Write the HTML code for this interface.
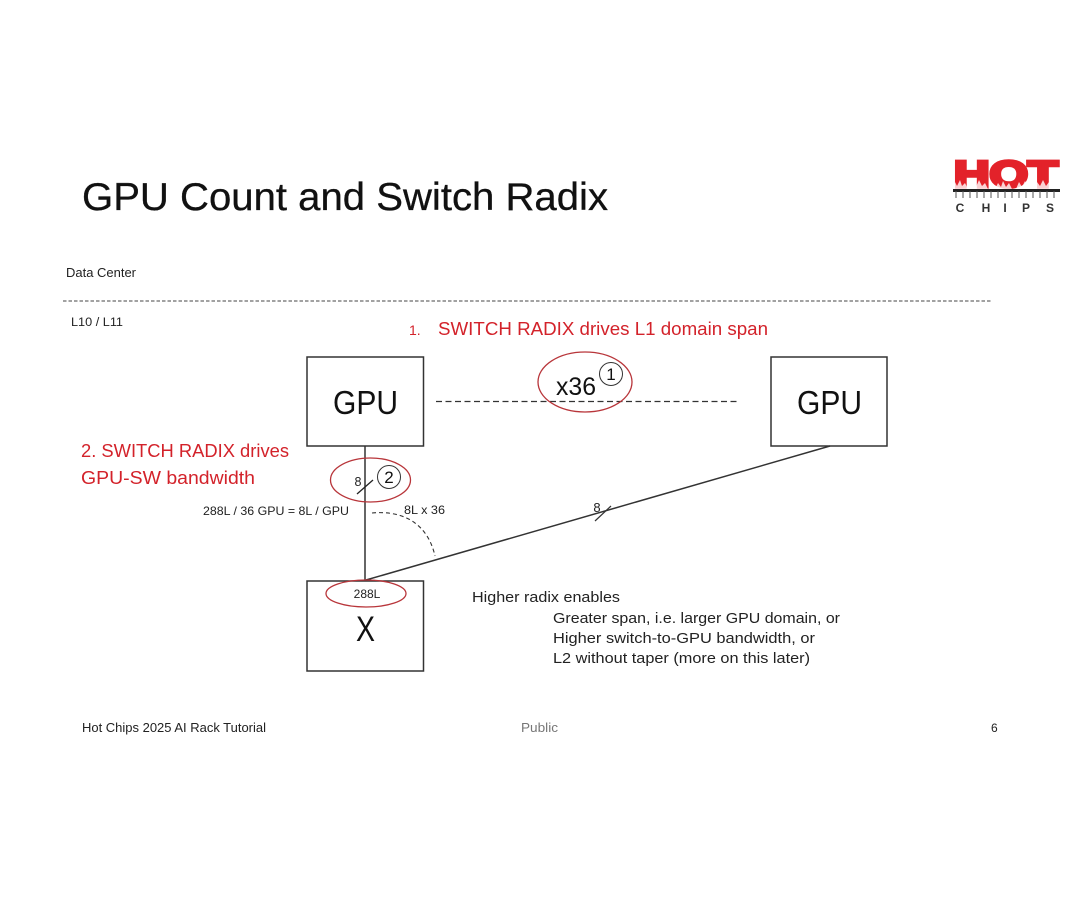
<!DOCTYPE html>
<html><head><meta charset="utf-8"><style>
html,body{margin:0;padding:0;background:#fff}
svg{display:block;font-family:"Liberation Sans","DejaVu Sans",sans-serif}
</style></head><body>
<svg width="1080" height="903" viewBox="0 0 1080 903" xmlns="http://www.w3.org/2000/svg">
<rect width="1080" height="903" fill="#fff"/>
<text x="82" y="210" font-size="39" fill="#111" stroke="#111" stroke-width=".3" textLength="526" lengthAdjust="spacingAndGlyphs">GPU Count and Switch Radix</text>

<!-- logo -->
<text x="954" y="187" font-size="37" font-weight="bold" fill="#e3222a" stroke="#e3222a" stroke-width="3.500" textLength="104" lengthAdjust="spacingAndGlyphs">HOT</text>
<path d="M953 189L955 182L957 186L960 180L962 186L965 183L968 189ZM970 189L973 182L976 187L979 180L982 186L985 183L988 189ZM995 189L998 183L1001 187L1003 181L1006 187L1009 183L1012 189ZM1016 189L1019 182L1022 187L1025 181L1028 186L1031 189ZM1034 189L1037 182L1040 186L1043 180L1046 186L1049 182L1053 189Z" fill="#fff" opacity=".8"/>
<rect x="953" y="189" width="107" height="3" fill="#222"/>
<path d="M956 191v7M963 191v7M970 191v7M977 191v7M984 191v7M991 191v7M998 191v7M1005 191v7M1012 191v7M1019 191v7M1026 191v7M1033 191v7M1040 191v7M1047 191v7M1054 191v7" stroke="#555" stroke-width="1"/>
<g font-size="12" font-weight="bold" fill="#333" text-anchor="middle">
<text x="960" y="212">C</text>
<text x="986" y="212">H</text>
<text x="1005" y="212">I</text>
<text x="1026" y="212">P</text>
<text x="1050" y="212">S</text>
</g>

<text x="66" y="277" font-size="12.500" fill="#222" textLength="70" lengthAdjust="spacingAndGlyphs">Data Center</text>
<line x1="63" y1="301" x2="991" y2="301" stroke="#444" stroke-width="1" stroke-dasharray="3.500 2"/>
<text x="71" y="326" font-size="11.500" fill="#222" textLength="52" lengthAdjust="spacingAndGlyphs">L10 / L11</text>

<text x="409" y="335" font-size="14" fill="#d3222a">1.</text>
<text x="438" y="335" font-size="18" fill="#d3222a" textLength="330" lengthAdjust="spacingAndGlyphs">SWITCH RADIX drives L1 domain span</text>

<!-- GPU boxes -->
<rect x="307" y="357" width="116.500" height="89" fill="#fff" stroke="#333" stroke-width="1.500"/>
<rect x="771" y="357" width="116" height="89" fill="#fff" stroke="#333" stroke-width="1.500"/>
<text x="333" y="414" font-size="33" fill="#111" textLength="65" lengthAdjust="spacingAndGlyphs">GPU</text>
<text x="797" y="414" font-size="33" fill="#111" textLength="65" lengthAdjust="spacingAndGlyphs">GPU</text>

<line x1="436" y1="401.500" x2="740" y2="401.500" stroke="#333" stroke-width="1.300" stroke-dasharray="6 3.500"/>
<ellipse cx="585" cy="382" rx="47" ry="30" fill="none" stroke="#b8353a" stroke-width="1.300"/>
<text x="556" y="395" font-size="25" fill="#111" textLength="40" lengthAdjust="spacingAndGlyphs">x36</text>
<circle cx="611" cy="374" r="11.500" fill="#fff" stroke="#333" stroke-width="1"/>
<text x="611" y="380" font-size="17" fill="#111" text-anchor="middle">1</text>

<text x="81" y="457" font-size="18.500" fill="#d3222a" textLength="208" lengthAdjust="spacingAndGlyphs">2. SWITCH RADIX drives</text>
<text x="81" y="484" font-size="18.500" fill="#d3222a" textLength="174" lengthAdjust="spacingAndGlyphs">GPU-SW bandwidth</text>

<!-- connectors -->
<line x1="365" y1="446" x2="365" y2="581" stroke="#333" stroke-width="1.500"/>
<line x1="366" y1="580" x2="830" y2="446" stroke="#333" stroke-width="1.500"/>
<line x1="357" y1="494" x2="373" y2="480" stroke="#222" stroke-width="1.300"/>
<line x1="595" y1="521" x2="611" y2="506" stroke="#333" stroke-width="1.200"/>
<text x="358" y="486" font-size="12.500" fill="#222" text-anchor="middle">8</text>
<text x="597" y="512" font-size="13" fill="#222" text-anchor="middle">8</text>
<ellipse cx="370.500" cy="480" rx="40" ry="22" fill="none" stroke="#b8353a" stroke-width="1.300"/>
<circle cx="389" cy="477" r="11.500" fill="#fff" stroke="#333" stroke-width="1"/>
<text x="389" y="483" font-size="17" fill="#111" text-anchor="middle">2</text>

<text x="203" y="515" font-size="12" fill="#222" textLength="146" lengthAdjust="spacingAndGlyphs">288L / 36 GPU = 8L / GPU</text>
<text x="404" y="514" font-size="12" fill="#222" textLength="41" lengthAdjust="spacingAndGlyphs">8L x 36</text>
<path d="M372 513C405 510 428 525 435 556" fill="none" stroke="#333" stroke-width="1.100" stroke-dasharray="4 3"/>

<!-- X box -->
<rect x="307" y="581" width="116.500" height="90" fill="none" stroke="#333" stroke-width="1.500"/>
<ellipse cx="366" cy="593.500" rx="40" ry="13.500" fill="none" stroke="#b8353a" stroke-width="1.300"/>
<text x="367" y="598" font-size="12" fill="#222" text-anchor="middle">288L</text>
<text x="356" y="641" font-size="35" fill="#111" textLength="19" lengthAdjust="spacingAndGlyphs">X</text>

<g font-size="14.500" fill="#222">
<text x="472" y="602" textLength="148" lengthAdjust="spacingAndGlyphs">Higher radix enables</text>
<text x="553" y="623" textLength="287" lengthAdjust="spacingAndGlyphs">Greater span, i.e. larger GPU domain, or</text>
<text x="553" y="643" textLength="262" lengthAdjust="spacingAndGlyphs">Higher switch-to-GPU bandwidth, or</text>
<text x="553" y="663" textLength="257" lengthAdjust="spacingAndGlyphs">L2 without taper (more on this later)</text>
</g>

<text x="82" y="732" font-size="12.500" fill="#222" textLength="184" lengthAdjust="spacingAndGlyphs">Hot Chips 2025 AI Rack Tutorial</text>
<text x="521" y="732" font-size="12.500" fill="#777" textLength="37" lengthAdjust="spacingAndGlyphs">Public</text>
<text x="991" y="732" font-size="12" fill="#222">6</text>
</svg>
</body></html>
